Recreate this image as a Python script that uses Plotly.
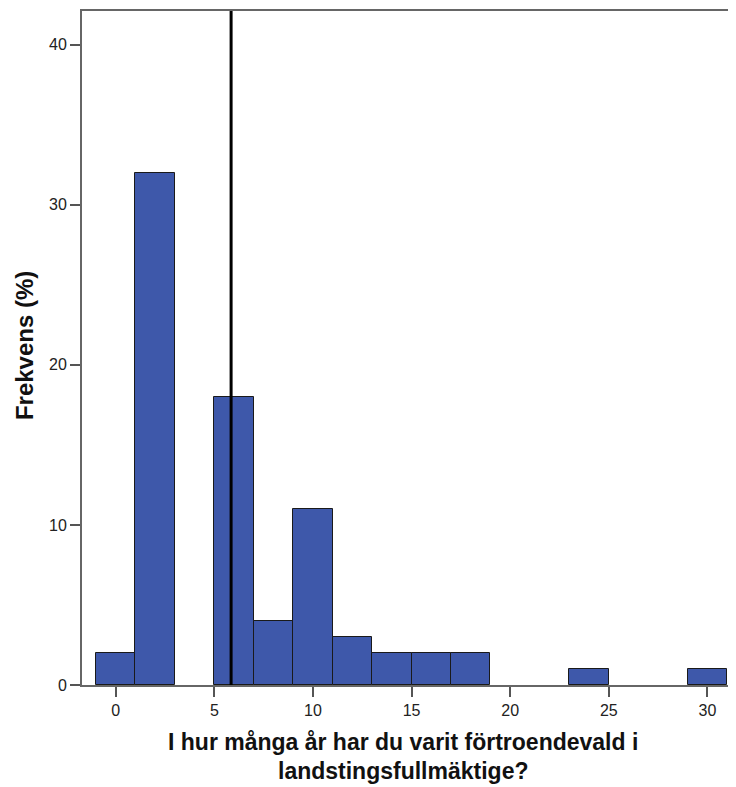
import plotly.graph_objects as go

# histogram bins (width 2), centres and percent frequency
bin_centers = [0, 2, 6, 8, 10, 12, 14, 16, 18, 24, 30]
frekvens = [2, 32, 18, 4, 11, 3, 2, 2, 2, 1, 1]
mean_value = 5.85
x_ticks = [0, 5, 10, 15, 20, 25, 30]
y_ticks = [0, 10, 20, 30, 40]
x_title = ["I hur många år har du varit förtroendevald i", "landstingsfullmäktige?"]
y_title = "Frekvens (%)"

BAR = "#3E58AA"
FONT = "Liberation Sans, Arial, sans-serif"

fig = go.Figure()
fig.add_trace(go.Bar(
    x=bin_centers,
    y=frekvens,
    width=2,
    marker_color=BAR,
    marker_line_color="#1a1a1a",
    marker_line_width=1,
    showlegend=False,
    hoverinfo="x+y",
))

# mean line
fig.add_shape(type="line", x0=mean_value, x1=mean_value, y0=0, y1=1,
              xref="x", yref="paper", line=dict(color="black", width=3))

# axis titles as annotations (tight line spacing like the original)
for text, y in zip(x_title, [-0.085, -0.128]):
    fig.add_annotation(text=f"<b>{text}</b>", xref="paper", yref="paper",
                       x=0.491, y=y, xanchor="center", yanchor="middle",
                       showarrow=False, font=dict(size=23, color="#111"))
fig.add_annotation(text=f"<b>{y_title}</b>", xref="paper", yref="paper",
                   x=-0.087, y=0.503, xanchor="center", yanchor="middle",
                   textangle=-90, showarrow=False,
                   font=dict(size=24, color="#111"))

fig.update_layout(
    width=728, height=779,
    margin=dict(l=74, r=0, t=3, b=102),
    plot_bgcolor="white",
    paper_bgcolor="white",
    font=dict(family=FONT, color="#222", size=16),
    bargap=0,
    xaxis=dict(
        range=[-1.71, 31.45],
        tickvals=x_ticks,
        ticks="outside", ticklen=10, tickwidth=2, tickcolor="#555",
        showline=True, linecolor="#666", linewidth=2, mirror=True,
        showgrid=False, zeroline=False,
        tickfont=dict(size=16, color="#222"),
    ),
    yaxis=dict(
        range=[0, 42.1],
        tickvals=y_ticks,
        ticks="outside", ticklen=10, tickwidth=2, tickcolor="#555",
        showline=True, linecolor="#666", linewidth=2,
        showgrid=False, zeroline=False,
        tickfont=dict(size=16, color="#222"),
    ),
)

fig.write_html("out.html")
